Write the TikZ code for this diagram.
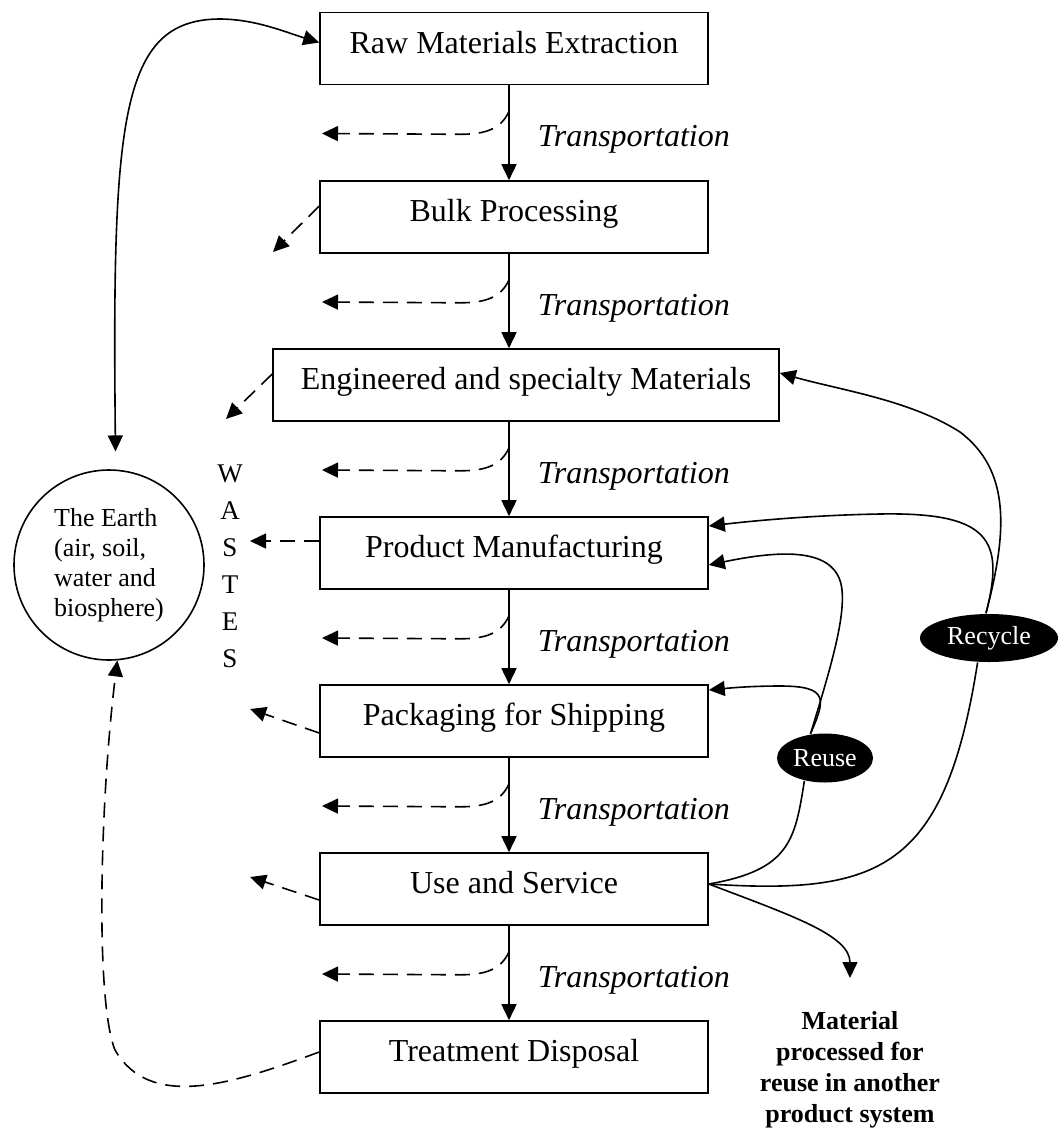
\documentclass[tikz,border=0pt]{standalone}
\usepackage{fontspec}
\setmainfont{Liberation Serif}
\usetikzlibrary{arrows.meta,shapes.geometric,calc,positioning}

\begin{document}
\begin{tikzpicture}[x=1pt,y=-1pt,line width=1.6pt,>={Triangle[length=16pt,width=15pt]}]

        % Setup the styles for the stages
        \tikzset{stage style/.style={draw,
                                     minimum width=388pt,
                                     minimum height=72pt,
                                     inner sep=0pt,
                                     text height=22pt,
                                     text depth=13pt,
                                     font=\fontsize{32}{38}\selectfont},
                 trans style/.style={right, inner sep=0pt, xshift=28pt, yshift=-7pt,
                                     font=\fontsize{32}{38}\selectfont\itshape},
                 loop style/.style={ellipse, fill=black, text=white, inner sep=0pt,
                                    font=\fontsize{26}{30}\selectfont},
                 waste style/.style={->, dash pattern=on 15pt off 9pt}}

        \useasboundingbox (0,0) rectangle (1058,1128);
        \coordinate (spine) at (509,0);

        % Draw the stages
        \node[stage style] at (514,48.5)  (raw)   {Raw Materials Extraction};
        \node[stage style] at (514,217)   (bulk)  {Bulk Processing};
        \node[stage style, minimum width=506pt] at (526,385) (eng) {Engineered and specialty Materials};
        \node[stage style] at (514,553)   (manu)  {Product Manufacturing};
        \node[stage style] at (514,721)   (pack)  {Packaging for Shipping};
        \node[stage style] at (514,889)   (use)   {Use and Service};
        \node[stage style] at (514,1057)  (treat) {Treatment Disposal};

        \node[draw, circle, minimum size=190pt, inner sep=0pt, align=left,
              font=\fontsize{26}{30}\selectfont] at (109,565) (earth)
              {The Earth\\(air, soil,\\water and\\biosphere)};
        \node[align=center, inner sep=0pt, font=\fontsize{27}{37}\selectfont]
              at (230,566) (wastes) {W\\A\\S\\T\\E\\S};

        \node[loop style, minimum width=96pt, minimum height=49pt] at (825,758) (reuse) {Reuse};
        \node[loop style, minimum width=138pt, minimum height=48pt] at (989,638) (recycle) {Recycle};
        \node[align=center, inner sep=0pt, font=\fontsize{26}{31}\selectfont\bfseries]
              at (850,1070) (material) {Material\\processed for\\reuse in another\\product system};

        % Free ends of the waste arrows
        \coordinate (w1) at (322,133.5);
        \coordinate (w2) at (322,302);
        \coordinate (w3) at (322,470);
        \coordinate (w4) at (322,638);
        \coordinate (w5) at (322,806);
        \coordinate (w6) at (322,974);
        \coordinate (s1) at (273,252);
        \coordinate (s2) at (226,419);
        \coordinate (s3) at (250,541);
        \coordinate (s4) at (250,709);
        \coordinate (s5) at (250,877);
        \coordinate (mat) at (850,978);

        % Connect the stages with arrows
        \draw
            (raw.south -| spine)  edge[->] node[trans style] {Transportation} (bulk.north -| spine)
            (bulk.south -| spine) edge[->] node[trans style] {Transportation} (eng.north -| spine)
            (eng.south -| spine)  edge[->] node[trans style] {Transportation} (manu.north -| spine)
            (manu.south -| spine) edge[->] node[trans style] {Transportation} (pack.north -| spine)
            (pack.south -| spine) edge[->] node[trans style] {Transportation} (use.north -| spine)
            (use.south -| spine)  edge[->] node[trans style] {Transportation} (treat.north -| spine);

        % Wastes
        \draw[waste style] ($(raw.south -| spine)+(0,26)$)  .. controls +(-8,18) and +(25,0) .. ++(-49,23) -- (w1);
        \draw[waste style] ($(bulk.south -| spine)+(0,26)$) .. controls +(-8,18) and +(25,0) .. ++(-49,23) -- (w2);
        \draw[waste style] ($(eng.south -| spine)+(0,26)$)  .. controls +(-8,18) and +(25,0) .. ++(-49,23) -- (w3);
        \draw[waste style] ($(manu.south -| spine)+(0,26)$) .. controls +(-8,18) and +(25,0) .. ++(-49,23) -- (w4);
        \draw[waste style] ($(pack.south -| spine)+(0,26)$) .. controls +(-8,18) and +(25,0) .. ++(-49,23) -- (w5);
        \draw[waste style] ($(use.south -| spine)+(0,26)$)  .. controls +(-8,18) and +(25,0) .. ++(-49,23) -- (w6);
        \draw[waste style] ($(bulk.west)+(0,-11)$) -- (s1);
        \draw[waste style] ($(eng.west)+(0,-11)$) -- (s2);
        \draw[waste style] ($(manu.west)+(0,-12)$) -- (s3);
        \draw[waste style] ($(pack.west)+(0,12)$) -- (s4);
        \draw[waste style] ($(use.west)+(0,11)$) -- (s5);

        % Earth loop
        \draw[<->, shorten <=18pt] (earth.86) .. controls (112,120) and (120,20) .. (219,19)
            .. controls (255,19) and (285,32) .. ($(raw.west)+(0,-6)$);
        \draw[waste style] ($(treat.west)+(0,-5)$) .. controls (230,1085) and (150,1110) .. (115,1050)
            .. controls (95,1000) and (100,800) .. (earth.275);

        % Reuse and recycle
        \draw[->] (recycle.97) .. controls (1008,530) and (1010,470) .. (960,432)
            .. controls (910,400) and (840,390) .. ($(eng.east)+(0,-12)$);
        \draw[->] (recycle.97) .. controls (1005,540) and (990,512) .. (880,514)
            .. controls (820,515) and (760,520) .. ($(manu.east)+(0,-27)$);
        \draw[->] (reuse.121) .. controls (830,670) and (845,620) .. (842,590)
            .. controls (838,550) and (790,548) .. ($(manu.east)+(0,12)$);
        \draw[->] (reuse.121) .. controls (825,700) and (830,686) .. (780,686)
            .. controls (750,686) and (730,688) .. ($(pack.east)+(0,-31)$);
        \draw ($(use.east)+(0,-5)$) .. controls (790,870) and (795,840) .. (reuse.228);
        \draw ($(use.east)+(0,-5)$) .. controls (880,895) and (945,870) .. (recycle.245);
        \draw[->] ($(use.east)+(0,-5)$) .. controls (790,915) and (850,935) .. (mat);
\end{tikzpicture}
\end{document}
